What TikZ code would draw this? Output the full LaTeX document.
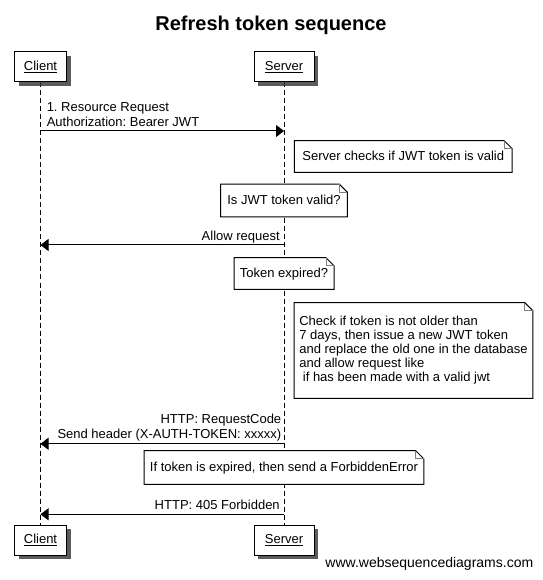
\documentclass[tikz,border=0pt]{standalone}
\usepackage{fontspec}
\setmainfont{Liberation Sans}
\usetikzlibrary{arrows.meta,shadows,backgrounds}
\frenchspacing

\tikzset{
  title/.style={anchor=base, inner sep=0pt, font=\bfseries\fontsize{15}{17}\selectfont},
  actor/.style={draw, fill=white, line width=0.75pt, minimum height=22.5pt,
    drop shadow={shadow xshift=3pt, shadow yshift=-3pt, fill=black!80, opacity=0.8}},
  lifeline/.style={line width=0.75pt, dash pattern=on 3.75pt off 2.25pt},
  msg/.style={line width=0.75pt, -{Triangle[length=6pt,width=9pt]}},
  msglabel/.style={inner sep=0pt},
  note/.style={fill=white, inner sep=0pt, font=\fontsize{9.75}{10.5}\selectfont},
  oneline/.style={text height=0.72em, text depth=0.15em},
  noteline/.style={line width=0.75pt},
}
% outline of a note with a folded corner
\newcommand\notefold[1]{%
  \draw[noteline] (#1.south west) -- (#1.north west) -- ([xshift=-6pt]#1.north east)
    -- ([yshift=-6pt]#1.north east) -- (#1.south east) -- cycle;
  \draw[gray, line width=0.5pt] ([xshift=-6pt]#1.north east) |- ([yshift=-6pt]#1.north east);
}

\begin{document}
\begin{tikzpicture}[x=0.75pt, y=-0.75pt, font=\fontsize{9.75}{11.25}\selectfont]
  \useasboundingbox (0,0) rectangle (542,580);

  % Title
  \node[title] (title) at (271,31) {Refresh token sequence};

  % Participants
  \node[actor, minimum width=39pt] (clientTop) at (40.5,67) {\underline{Client}};
  \node[actor, minimum width=45pt] (serverTop) at (284,67) {\underline{Server}};
  \node[actor, minimum width=39pt] (clientBot) at (40.5,540) {\underline{Client}};
  \node[actor, minimum width=45pt] (serverBot) at (284,540) {\underline{Server}};

  % Lifelines
  \begin{scope}[on background layer]
    \draw[lifeline] (clientTop) -- (clientBot);
    \draw[lifeline] (serverTop) -- (serverBot);
  \end{scope}

  % Resource request
  \coordinate (reqC) at (clientTop |- 0,131);
  \coordinate (reqS) at (serverTop |- 0,131);
  \draw[msg] (reqC) -- (reqS);
  \node[msglabel, align=left, anchor=base west] (reqText) at (46.5,127) {1. Resource Request\\Authorization: Bearer JWT};

  % Server side checks
  \node[note, oneline, minimum width=163pt, minimum height=23.25pt] (checkNote) at (403.25,156.5) {Server checks if JWT token is valid};
  \notefold{checkNote}
  \node[note, oneline, minimum width=94.5pt, minimum height=24pt] (validNote) at (284,200.5) {Is JWT token valid?};
  \notefold{validNote}

  % Allow request
  \coordinate (allowS) at (serverTop |- 0,245);
  \coordinate (allowC) at (clientTop |- 0,245);
  \draw[msg] (allowS) -- (allowC);
  \node[msglabel, anchor=base east] (allowText) at (280,240.7) {Allow request};

  % Expired token
  \node[note, oneline, minimum width=74.6pt, minimum height=23.25pt] (expiredNote) at (284,273.5) {Token expired?};
  \notefold{expiredNote}
  \node[note, align=left, minimum width=178.5pt, minimum height=71.25pt] (renewNote) at (413.5,350.5) {Check if token is not older than\\7 days, then issue a new JWT token\\and replace the old one in the database\\and allow request like\\\hspace*{0.278em}if has been made with a valid jwt};
  \notefold{renewNote}

  % Request code
  \coordinate (codeS) at (serverTop |- 0,443.8);
  \coordinate (codeC) at (clientTop |- 0,443.8);
  \draw[msg] (codeS) -- (codeC);
  \node[msglabel, align=right, anchor=base east] (codeText) at (281.5,438) {HTTP: RequestCode\\Send header (X-AUTH-TOKEN: xxxxx)};

  % Forbidden
  \node[note, oneline, minimum width=209.25pt, minimum height=24.75pt] (forbidNote) at (284,467.5) {If token is expired, then send a ForbiddenError};
  \notefold{forbidNote}
  \coordinate (forbidS) at (serverTop |- 0,514.3);
  \coordinate (forbidC) at (clientTop |- 0,514.3);
  \draw[msg] (forbidS) -- (forbidC);
  \node[msglabel, anchor=base east] (forbidText) at (280,509.8) {HTTP: 405 Forbidden};

  % Watermark
  \node[anchor=base east, inner sep=0pt, font=\fontsize{10.5}{12}\selectfont] (mark) at (533.5,567) {www.websequencediagrams.com};
\end{tikzpicture}
\end{document}
